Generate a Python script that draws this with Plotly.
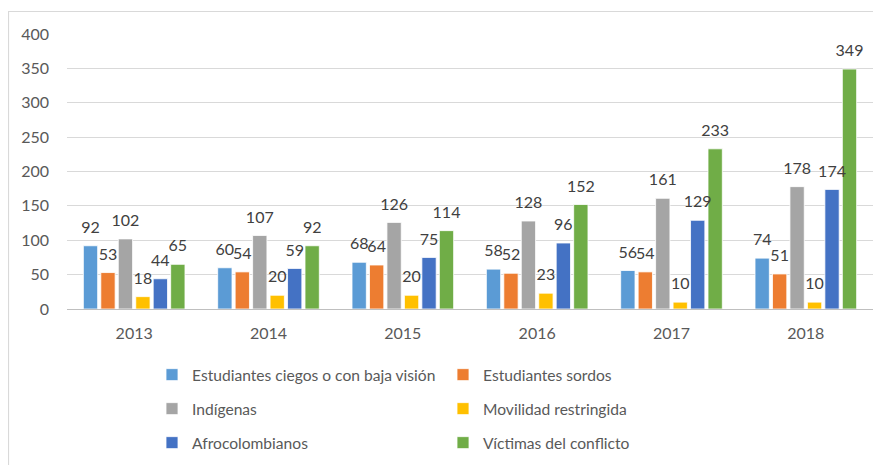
import plotly.graph_objects as go

years = ["2013", "2014", "2015", "2016", "2017", "2018"]
series_names = [
    "Estudiantes ciegos o con baja visión",
    "Estudiantes sordos",
    "Indígenas",
    "Movilidad restringida",
    "Afrocolombianos",
    "Víctimas del conflicto",
]
ciegos = [92, 60, 68, 58, 56, 74]
sordos = [53, 54, 64, 52, 54, 51]
indigenas = [102, 107, 126, 128, 161, 178]
movilidad = [18, 20, 20, 23, 10, 10]
afro = [44, 59, 75, 96, 129, 174]
victimas = [65, 92, 114, 152, 233, 349]
y_ticks = [0, 50, 100, 150, 200, 250, 300, 350, 400]

colors = ["#5B9BD5", "#ED7D31", "#A5A5A5", "#FFC000", "#4472C4", "#70AD47"]
values = [ciegos, sordos, indigenas, movilidad, afro, victimas]
legend_ids = ["legend", "legend", "legend2", "legend2", "legend3", "legend3"]

FONT = "Lato"
LABEL_PAD = 10  # extra gap (axis units) between bar top and its label, like Excel

fig = go.Figure()
for i, (name, vals, col, lg) in enumerate(zip(series_names, values, colors, legend_ids)):
    fig.add_trace(go.Bar(
        x=years, y=vals, name=name, offsetgroup=str(i),
        marker=dict(color=col, line=dict(color="white", width=0.8)),
        legend=lg, hoverinfo="x+y+name",
    ))
# label layer drawn above all bars (same offset groups, transparent)
for i, vals in enumerate(values):
    fig.add_trace(go.Bar(
        x=years, y=[LABEL_PAD] * len(vals), base=vals, offsetgroup=str(i),
        marker=dict(color="rgba(0,0,0,0)", line=dict(width=0)),
        text=vals, texttemplate="%{text}", textposition="outside", constraintext="none",
        textfont=dict(family=FONT, size=16, color="#404040"),
        cliponaxis=False, showlegend=False, hoverinfo="skip",
    ))

# page body has an 8px margin, so the figure is 8px smaller and all
# positions below are in figure pixels (= screen pixels - 8)
W, H = 873, 457
L, R, T, B = 59, 8, 26, 156
pw, ph = W - L - R, H - T - B

def px_x(px):
    return (px - L) / pw

def px_y(py):
    return (H - B - py) / ph

leg_common = dict(orientation="h", xanchor="left", yanchor="middle",
                  font=dict(family=FONT, size=15.6, color="#595959"),
                  entrywidth=246, bgcolor="rgba(0,0,0,0)", traceorder="normal")

fig.update_layout(
    width=W, height=H,
    margin=dict(l=L, r=R, t=T, b=B, autoexpand=False),
    paper_bgcolor="white", plot_bgcolor="white",
    barmode="group", bargap=0.22, bargroupgap=0.18,
    font=dict(family=FONT, color="#595959"),
    xaxis=dict(showgrid=False, showline=True, linecolor="#BFBFBF", linewidth=1,
               ticks="", tickfont=dict(family=FONT, size=16, color="#595959"),
               ticklabelstandoff=10),
    yaxis=dict(range=[0, 400], tickvals=y_ticks, showgrid=True, gridcolor="#D9D9D9",
               gridwidth=1, zeroline=False, ticks="", showline=False,
               tickfont=dict(family=FONT, size=16, color="#595959"), ticklabelstandoff=17),
    legend=dict(x=px_x(144), y=px_y(367), **leg_common),
    legend2=dict(x=px_x(144), y=px_y(401), **leg_common),
    legend3=dict(x=px_x(144), y=px_y(435), **leg_common),
    shapes=[dict(type="rect", xref="paper", yref="paper",
                 x0=px_x(0.5), x1=px_x(W + 20), y0=px_y(H + 20), y1=px_y(3.5),
                 line=dict(color="#D9D9D9", width=1.2), layer="below")],
)

fig.write_html("out.html")
